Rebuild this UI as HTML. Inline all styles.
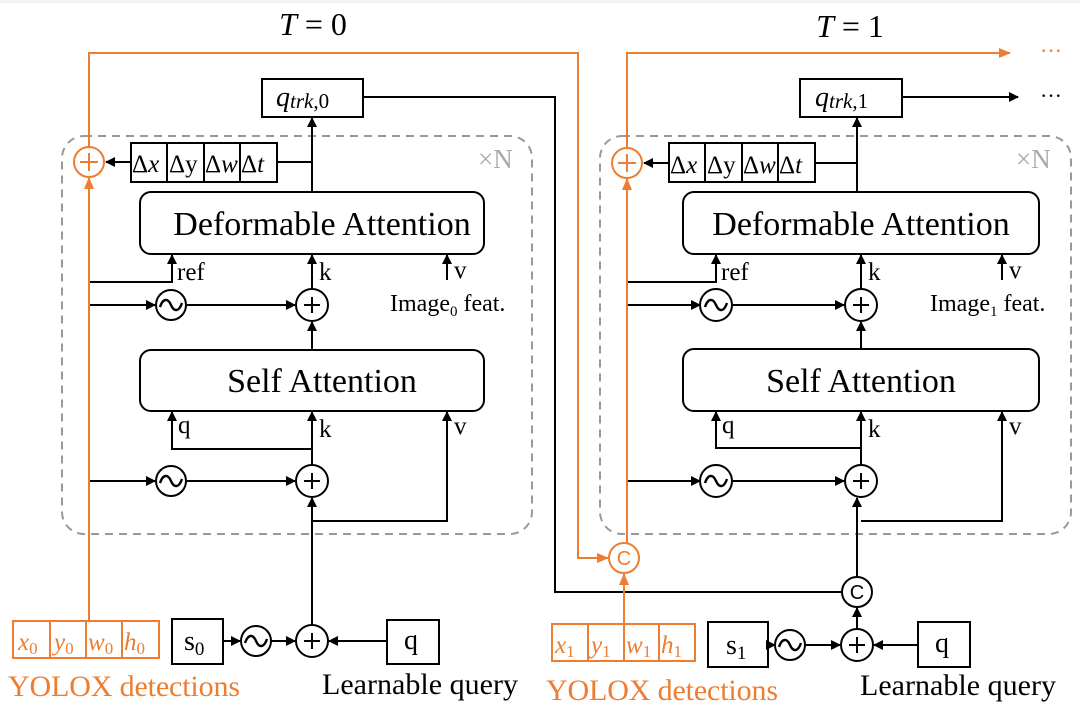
<!DOCTYPE html>
<html><head><meta charset="utf-8"><style>
html,body{margin:0;padding:0;background:#fff;}
svg text{font-family:"Liberation Serif",serif;}
</style></head><body>
<svg width="1080" height="714" viewBox="0 0 1080 714" xmlns="http://www.w3.org/2000/svg">
<defs>
<marker id="a" markerWidth="10" markerHeight="10" refX="9" refY="5" orient="auto" markerUnits="userSpaceOnUse"><path d="M0,0 L10,5 L0,10 z" fill="#000"/></marker>
<marker id="o" markerWidth="12" markerHeight="10" refX="11" refY="5" orient="auto" markerUnits="userSpaceOnUse"><path d="M0,0 L12,5 L0,10 z" fill="#ED7D31"/></marker>
</defs>
<rect width="1080" height="714" fill="#fff"/>
<rect width="1080" height="3" fill="#f2f2f2"/>
<g font-size="32" text-anchor="middle">
<text x="313" y="35"><tspan font-style="italic">T</tspan> = 0</text>
<text x="850" y="37"><tspan font-style="italic">T</tspan> = 1</text>
</g>

<rect x="62" y="136" width="470" height="398" rx="22" fill="none" stroke="#999" stroke-width="2" stroke-dasharray="8,6"/>
<rect x="600" y="136" width="471" height="398" rx="22" fill="none" stroke="#999" stroke-width="2" stroke-dasharray="8,6"/>
<text x="478" y="168" font-size="27" fill="#aaa">×N</text>
<text x="1016" y="168" font-size="27" fill="#aaa">×N</text>

<g stroke="#000" stroke-width="2" fill="none">
<rect x="262" y="79" width="101" height="38" fill="#fff"/>
<rect x="131" y="143" width="146" height="39"/>
<line x1="167" y1="143" x2="167" y2="182"/><line x1="204" y1="143" x2="204" y2="182"/><line x1="240" y1="143" x2="240" y2="182"/>
<line x1="131" y1="162" x2="106" y2="162" marker-end="url(#a)"/>
<line x1="277" y1="162" x2="312" y2="162"/>
<line x1="312" y1="192" x2="312" y2="118" marker-end="url(#a)"/>
<rect x="140" y="192" width="344" height="62" rx="11"/>
<polyline points="89,282 172,282 172,255" marker-end="url(#a)"/>
<line x1="312" y1="289" x2="312" y2="255" marker-end="url(#a)"/>
<line x1="447" y1="280" x2="447" y2="255" marker-end="url(#a)"/>
<line x1="89" y1="305" x2="155" y2="305" marker-end="url(#a)"/>
<line x1="187" y1="305" x2="295" y2="305" marker-end="url(#a)"/>
<circle cx="171" cy="305" r="15"/><circle cx="312" cy="305" r="16"/>
<line x1="312" y1="350" x2="312" y2="322" marker-end="url(#a)"/>
<rect x="140" y="350" width="344" height="61" rx="11"/>
<polyline points="312,449 172,449 172,412" marker-end="url(#a)"/>
<line x1="312" y1="465" x2="312" y2="412" marker-end="url(#a)"/>
<polyline points="312,521 447,521 447,412" marker-end="url(#a)"/>
<line x1="89" y1="481" x2="155" y2="481" marker-end="url(#a)"/>
<line x1="187" y1="481" x2="295" y2="481" marker-end="url(#a)"/>
<circle cx="171" cy="481" r="15"/><circle cx="312" cy="481" r="16"/>
<line x1="312" y1="625" x2="312" y2="498" marker-end="url(#a)"/>
<rect x="172" y="619" width="51" height="45"/>
<line x1="223" y1="641" x2="240" y2="641" marker-end="url(#a)"/>
<circle cx="256" cy="641" r="15"/>
<line x1="271" y1="641" x2="295" y2="641" marker-end="url(#a)"/>
<circle cx="312" cy="641" r="16"/>
<rect x="387" y="620" width="52" height="44"/>
<line x1="387" y1="641" x2="329" y2="641" marker-end="url(#a)"/>
<polyline points="363,97 555,97 555,592 841,592"/>

<rect x="800" y="79" width="102" height="38" fill="#fff"/>
<line x1="902" y1="97" x2="1018" y2="97" marker-end="url(#a)"/>
<rect x="669" y="143" width="146" height="39"/>
<line x1="705" y1="143" x2="705" y2="182"/><line x1="742" y1="143" x2="742" y2="182"/><line x1="778" y1="143" x2="778" y2="182"/>
<line x1="669" y1="163" x2="644" y2="163" marker-end="url(#a)"/>
<line x1="815" y1="163" x2="857" y2="163"/>
<line x1="857" y1="192" x2="857" y2="118" marker-end="url(#a)"/>
<rect x="683" y="192" width="356" height="62" rx="11"/>
<polyline points="628,282 716,282 716,255" marker-end="url(#a)"/>
<line x1="861" y1="289" x2="861" y2="255" marker-end="url(#a)"/>
<line x1="1002" y1="280" x2="1002" y2="255" marker-end="url(#a)"/>
<line x1="628" y1="305" x2="700" y2="305" marker-end="url(#a)"/>
<line x1="732" y1="305" x2="844" y2="305" marker-end="url(#a)"/>
<circle cx="716" cy="305" r="16"/><circle cx="861" cy="305" r="16"/>
<line x1="861" y1="349" x2="861" y2="322" marker-end="url(#a)"/>
<rect x="683" y="349" width="356" height="62" rx="11"/>
<polyline points="861,448 716,448 716,412" marker-end="url(#a)"/>
<line x1="861" y1="465" x2="861" y2="412" marker-end="url(#a)"/>
<polyline points="861,521 1002,521 1002,412" marker-end="url(#a)"/>
<line x1="628" y1="481" x2="700" y2="481" marker-end="url(#a)"/>
<line x1="732" y1="481" x2="844" y2="481" marker-end="url(#a)"/>
<circle cx="716" cy="481" r="16"/><circle cx="861" cy="481" r="16"/>
<line x1="857" y1="576" x2="857" y2="498" marker-end="url(#a)"/>
<circle cx="857" cy="592" r="15"/>
<line x1="857" y1="629" x2="857" y2="608" marker-end="url(#a)"/>
<circle cx="857" cy="645" r="16"/>
<rect x="708" y="622" width="60" height="45"/>
<line x1="768" y1="645" x2="775" y2="645" marker-end="url(#a)"/>
<circle cx="790" cy="645" r="15"/>
<line x1="805" y1="645" x2="840" y2="645" marker-end="url(#a)"/>
<rect x="918" y="622" width="52" height="45"/>
<line x1="918" y1="645" x2="874" y2="645" marker-end="url(#a)"/>
</g>

<g stroke="#ED7D31" stroke-width="2" fill="none">
<polyline points="89,147 89,53 578,53 578,558 608,558" marker-end="url(#o)"/>
<line x1="89" y1="622" x2="89" y2="178" marker-end="url(#o)"/>
<circle cx="89" cy="162" r="15"/>
<rect x="13" y="621" width="146" height="37"/>
<line x1="50" y1="621" x2="50" y2="658"/><line x1="86" y1="621" x2="86" y2="658"/><line x1="122" y1="621" x2="122" y2="658"/>
<circle cx="624" cy="558" r="15"/>
<line x1="624" y1="624" x2="624" y2="574" marker-end="url(#o)"/>
<line x1="627" y1="543" x2="627" y2="179" marker-end="url(#o)"/>
<circle cx="627" cy="163" r="15"/>
<polyline points="627,148 627,53 1010,53" marker-end="url(#o)"/>
<rect x="552" y="624" width="143" height="37"/>
<line x1="588" y1="624" x2="588" y2="661"/><line x1="624" y1="624" x2="624" y2="661"/><line x1="659" y1="624" x2="659" y2="661"/>
</g>
<path d="M80,162h18M89,153v18M618,163h18M627,154v18" stroke="#ED7D31" stroke-width="2"/>

<g stroke="#000" stroke-width="2.4" fill="none">
<path d="M160,307 c3,-9 8,-9 11,-2 s8,7 11,-2"/>
<path d="M160,483 c3,-9 8,-9 11,-2 s8,7 11,-2"/>
<path d="M245,643 c3,-9 8,-9 11,-2 s8,7 11,-2"/>
<path d="M705,307 c3,-9 8,-9 11,-2 s8,7 11,-2"/>
<path d="M705,483 c3,-9 8,-9 11,-2 s8,7 11,-2"/>
<path d="M779,647 c3,-9 8,-9 11,-2 s8,7 11,-2"/>
</g>
<g stroke="#000" stroke-width="2">
<path d="M304,305h16M312,297v16M304,481h16M312,473v16M304,641h16M312,633v16"/>
<path d="M853,305h16M861,297v16M853,481h16M861,473v16M849,645h16M857,637v16"/>
</g>
<text x="857" y="599" fill="#000" font-size="20" text-anchor="middle" style="font-family:'Liberation Sans',sans-serif">C</text>
<text x="624" y="565" fill="#ED7D31" font-size="20" text-anchor="middle" style="font-family:'Liberation Sans',sans-serif">C</text>

<g font-size="34" text-anchor="middle">
<text x="322" y="235">Deformable Attention</text>
<text x="322" y="392">Self Attention</text>
<text x="861" y="235">Deformable Attention</text>
<text x="861" y="392">Self Attention</text>
</g>
<g font-size="25">
<text x="177" y="280">ref</text><text x="319" y="280">k</text><text x="454" y="278">v</text>
<text x="178" y="433">q</text><text x="319" y="437">k</text><text x="454" y="434">v</text>
<text x="721" y="280">ref</text><text x="868" y="280">k</text><text x="1009" y="278">v</text>
<text x="722" y="433">q</text><text x="868" y="437">k</text><text x="1009" y="434">v</text>
<text x="390" y="311" font-size="24">Image<tspan font-size="15" dy="5">0</tspan><tspan dy="-5"> feat.</tspan></text>
<text x="930" y="311" font-size="24">Image<tspan font-size="15" dy="5">1</tspan><tspan dy="-5"> feat.</tspan></text>
</g>
<g font-size="28" font-style="italic">
<text x="276" y="106">q<tspan font-size="21" dy="2">trk</tspan><tspan font-size="21" font-style="normal">,0</tspan></text>
<text x="815" y="106">q<tspan font-size="21" dy="2">trk</tspan><tspan font-size="21" font-style="normal">,1</tspan></text>
<g font-size="25">
<text x="132" y="172"><tspan font-style="normal">Δ</tspan>x</text><text x="169" y="172" font-style="normal">Δy</text><text x="205" y="172"><tspan font-style="normal">Δ</tspan>w</text><text x="241" y="172"><tspan font-style="normal">Δ</tspan>t</text>
<text x="670" y="173"><tspan font-style="normal">Δ</tspan>x</text><text x="707" y="173" font-style="normal">Δy</text><text x="743" y="173"><tspan font-style="normal">Δ</tspan>w</text><text x="779" y="173"><tspan font-style="normal">Δ</tspan>t</text>
</g>
<g font-size="25" fill="#ED7D31">
<text x="18" y="650">x<tspan font-size="17" font-style="normal" dy="4">0</tspan></text>
<text x="54" y="650">y<tspan font-size="17" font-style="normal" dy="4">0</tspan></text>
<text x="88" y="650">w<tspan font-size="17" font-style="normal" dy="4">0</tspan></text>
<text x="124" y="650">h<tspan font-size="17" font-style="normal" dy="4">0</tspan></text>
<text x="555" y="653">x<tspan font-size="17" font-style="normal" dy="4">1</tspan></text>
<text x="591" y="653">y<tspan font-size="17" font-style="normal" dy="4">1</tspan></text>
<text x="626" y="653">w<tspan font-size="17" font-style="normal" dy="4">1</tspan></text>
<text x="661" y="653">h<tspan font-size="17" font-style="normal" dy="4">1</tspan></text>
</g>
</g>
<g font-size="30">
<text x="184" y="650" font-size="28">s<tspan font-size="19" dy="5">0</tspan></text>
<text x="726" y="654" font-size="28">s<tspan font-size="19" dy="5">1</tspan></text>
<text x="404" y="649" font-size="28">q</text><text x="935" y="652" font-size="28">q</text>
<text x="8" y="696" fill="#ED7D31" textLength="232">YOLOX detections</text>
<text x="546" y="700" fill="#ED7D31" textLength="232">YOLOX detections</text>
<text x="322" y="694" textLength="196">Learnable query</text>
<text x="860" y="695" textLength="196">Learnable query</text>
<text x="1040" y="58" font-size="22" fill="#ED7D31">···</text>
<text x="1040" y="103" font-size="22">···</text>
</g>
</svg>
</body></html>
